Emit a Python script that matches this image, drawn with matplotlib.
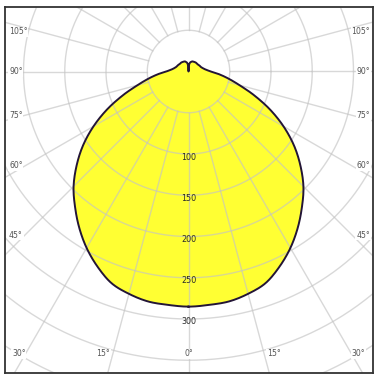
import numpy as np
import matplotlib
matplotlib.use("Agg")
import matplotlib.pyplot as plt

# intensity (cd) vs angle from nadir, one half (curve is symmetric)
angles = [0, 5, 10, 15, 20, 25, 30, 35, 40, 45, 50, 55, 60, 65, 70, 75, 80, 85, 90,
          95, 100, 110, 120, 130, 140, 150, 160, 165, 170, 175, 180]
cd = [285, 284, 283, 279, 273, 261, 247, 231, 214, 197, 177, 156, 133, 109, 85, 64, 49, 37, 27,
      22, 19, 16, 15, 14, 14, 13.5, 13, 12, 11, 8, 0]

rings = [50, 100, 150, 200, 250, 300, 350, 400, 450, 500]
ring_labels = [100, 150, 200, 250, 300]
angle_labels = [0, 15, 30, 45, 60, 75, 90, 105]

S = 0.825  # px per cd
W, H = 379, 380
cx, cy = 188.5, 71.5
box = (5, 7, 373, 373)  # left, top, right, bottom in px


def px(v):
    return v / S


def smooth_loop(x, y, n=12):
    # catmull-rom through the points, closed loop (drawing only)
    P = np.column_stack([x, y])
    m = len(P)
    out = []
    s = np.linspace(0, 1, n, endpoint=False)[:, None]
    for i in range(m):
        p0, p1, p2, p3 = P[i - 1], P[i], P[(i + 1) % m], P[(i + 2) % m]
        seg = 0.5 * ((2 * p1) + (-p0 + p2) * s + (2 * p0 - 5 * p1 + 4 * p2 - p3) * s ** 2
                     + (-p0 + 3 * p1 - 3 * p2 + p3) * s ** 3)
        out.append(seg)
    out = np.vstack(out + [out[0][:1]])
    return out[:, 0], out[:, 1]


fig = plt.figure(figsize=(W / 100, H / 100), dpi=100)
ax = fig.add_axes([box[0] / W, (H - box[3]) / H, (box[2] - box[0]) / W, (box[3] - box[1]) / H])
ax.set_xlim(px(box[0] - cx), px(box[2] - cx))
ax.set_ylim(px(cy - box[3]), px(cy - box[1]))
ax.set_xticks([])
ax.set_yticks([])
for sp in ax.spines.values():
    sp.set_color("#333333")
    sp.set_linewidth(1.3)

# curve, mirrored to full 360
a = np.radians(np.array(angles, dtype=float))
r = np.array(cd, dtype=float)
xs = np.concatenate([-r * np.sin(a), (r * np.sin(a))[::-1][1:-1]])
ys = np.concatenate([-r * np.cos(a), (-r * np.cos(a))[::-1][1:-1]])
sx, sy = smooth_loop(xs, ys)
ax.fill(sx, sy, color="#ffff33", zorder=1, lw=0)

# grid
t = np.linspace(0, 2 * np.pi, 400)
for rr in rings:
    ax.plot(rr * np.cos(t), rr * np.sin(t), color="#c4c4c4", lw=1.0, alpha=0.65, zorder=2)
for deg in range(0, 360, 15):
    th = np.radians(deg)
    ax.plot([-50 * np.sin(th), -600 * np.sin(th)], [-50 * np.cos(th), -600 * np.cos(th)],
            color="#c4c4c4", lw=1.0, alpha=0.65, zorder=2)

ax.plot(sx, sy, color="#231536", lw=1.4, zorder=3)

# radial labels
for v in ring_labels:
    ax.text(0, -v - px(3), str(v), ha="center", va="center", fontsize=5.8, color="#2a2a2a", zorder=4)

# angle labels
bb = dict(facecolor="white", edgecolor="none", pad=0.6)
xl = px(9 - cx)
xr = px(370 - cx)
xc = px(cx - 25)
ytop = px(cy - 32)
ybot = px(cy - 345)
ylab = px(cy - 354)
kw = dict(va="center", fontsize=5.6, color="#555555", bbox=bb, zorder=4)
for d in angle_labels:
    th = np.radians(d)
    lab = "%d°" % d
    if d == 0:
        ax.text(0, ylab, lab, ha="center", **kw)
    elif d < 45:
        xx = ybot * np.tan(th)
        ax.text(xx - px(5), ylab, lab, ha="right", **kw)
        ax.text(-xx + px(5), ylab, lab, ha="left", **kw)
    else:
        yy = min(-xc * np.cos(th) / np.sin(th), ytop)
        ax.text(xl, yy, lab, ha="left", **kw)
        ax.text(xr, yy, lab, ha="right", **kw)

fig.savefig("out.png", dpi=100)
